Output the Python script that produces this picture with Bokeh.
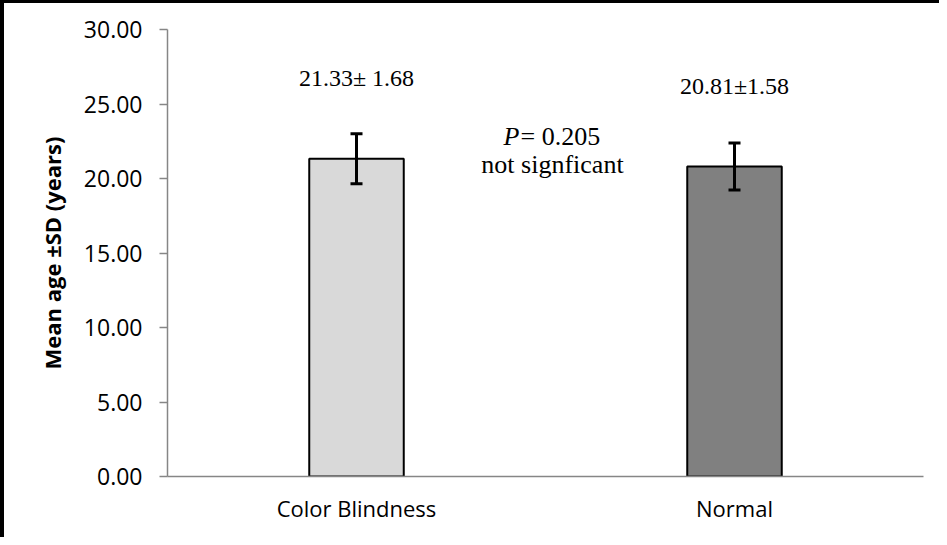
from bokeh.plotting import figure
from bokeh.models import ColumnDataSource, Whisker, TeeHead, NumeralTickFormatter, FixedTicker, Label
from bokeh.embed import file_html
from bokeh.resources import INLINE

categories = ["Color Blindness", "Normal"]
means = [21.33, 20.81]
sds = [1.68, 1.58]
colors = ["#D9D9D9", "#808080"]
value_labels = ["21.33\u00b1 1.68", "20.81\u00b11.58"]
label_y = [26.75, 26.2]
y_ticks = [0, 5, 10, 15, 20, 25, 30]

src = ColumnDataSource(dict(
    cat=categories, mean=means,
    upper=[m + s for m, s in zip(means, sds)],
    lower=[m - s for m, s in zip(means, sds)],
    color=colors, lab=value_labels, ly=label_y,
))

p = figure(x_range=categories, y_range=(0, 30), width=939, height=537,
           output_backend="svg", toolbar_location=None,
           min_border_left=163, min_border_right=20, min_border_top=26, min_border_bottom=64)
p.styles = {"border-left": "4px solid black", "border-top": "3px solid black", "box-sizing": "border-box"}
p.x_range.range_padding = 0
p.outline_line_color = None
p.grid.visible = False
p.background_fill_color = "white"
p.border_fill_color = "white"

p.vbar(x="cat", top="mean", width=0.25, source=src, fill_color="color",
       line_color="black", line_width=2)

w = Whisker(base="cat", upper="upper", lower="lower", source=src,
            line_color="black", line_width=3, level="overlay",
            upper_head=TeeHead(size=12, line_width=3, line_color="black"),
            lower_head=TeeHead(size=12, line_width=3, line_color="black"))
p.add_layout(w)

p.text(x="cat", y="ly", text="lab", source=src, text_align="center",
       text_baseline="middle", text_font_size="24px", text_font={"value": "Liberation Serif"},
       text_color="black")

p.add_layout(Label(x=352, y=22.8, x_units="screen", text="P", text_align="right",
                   text_baseline="middle", text_font_size="26px", text_font="Liberation Serif",
                   text_font_style="italic", text_color="black"))
p.add_layout(Label(x=353, y=22.8, x_units="screen", text="= 0.205", text_align="left",
                   text_baseline="middle", text_font_size="26px", text_font="Liberation Serif",
                   text_color="black"))
p.add_layout(Label(x=385, y=20.95, x_units="screen", text="not signficant", text_align="center",
                   text_baseline="middle", text_font_size="26px", text_font="Liberation Serif",
                   text_color="black"))

p.yaxis.ticker = FixedTicker(ticks=y_ticks)
p.yaxis.formatter = NumeralTickFormatter(format="0.00")
p.yaxis.axis_line_color = "#868686"
p.yaxis.axis_line_width = 1.5
p.yaxis.major_tick_line_color = "#868686"
p.yaxis.major_tick_line_width = 1.5
p.yaxis.major_tick_out = 8
p.yaxis.major_tick_in = 0
p.yaxis.minor_tick_line_color = None
p.yaxis.major_label_text_font = "Open Sans"
p.yaxis.major_label_text_font_size = "23px"
p.yaxis.major_label_text_color = "black"
p.yaxis.major_label_standoff = 17
p.yaxis.axis_label = "Mean age \u00b1SD (years)"
p.yaxis.axis_label_text_font = "Open Sans"
p.yaxis.axis_label_text_font_style = "bold"
p.yaxis.axis_label_text_font_size = "22px"
p.yaxis.axis_label_text_color = "black"
p.yaxis.axis_label_standoff = 14

p.xaxis.axis_line_color = "#868686"
p.xaxis.axis_line_width = 1.5
p.xaxis.major_tick_line_color = None
p.xaxis.minor_tick_line_color = None
p.xaxis.major_label_text_font = "Open Sans"
p.xaxis.major_label_text_font_size = "22px"
p.xaxis.major_label_text_color = "black"
p.xaxis.major_label_standoff = 10

open("out.html", "w").write(file_html(p, INLINE))
